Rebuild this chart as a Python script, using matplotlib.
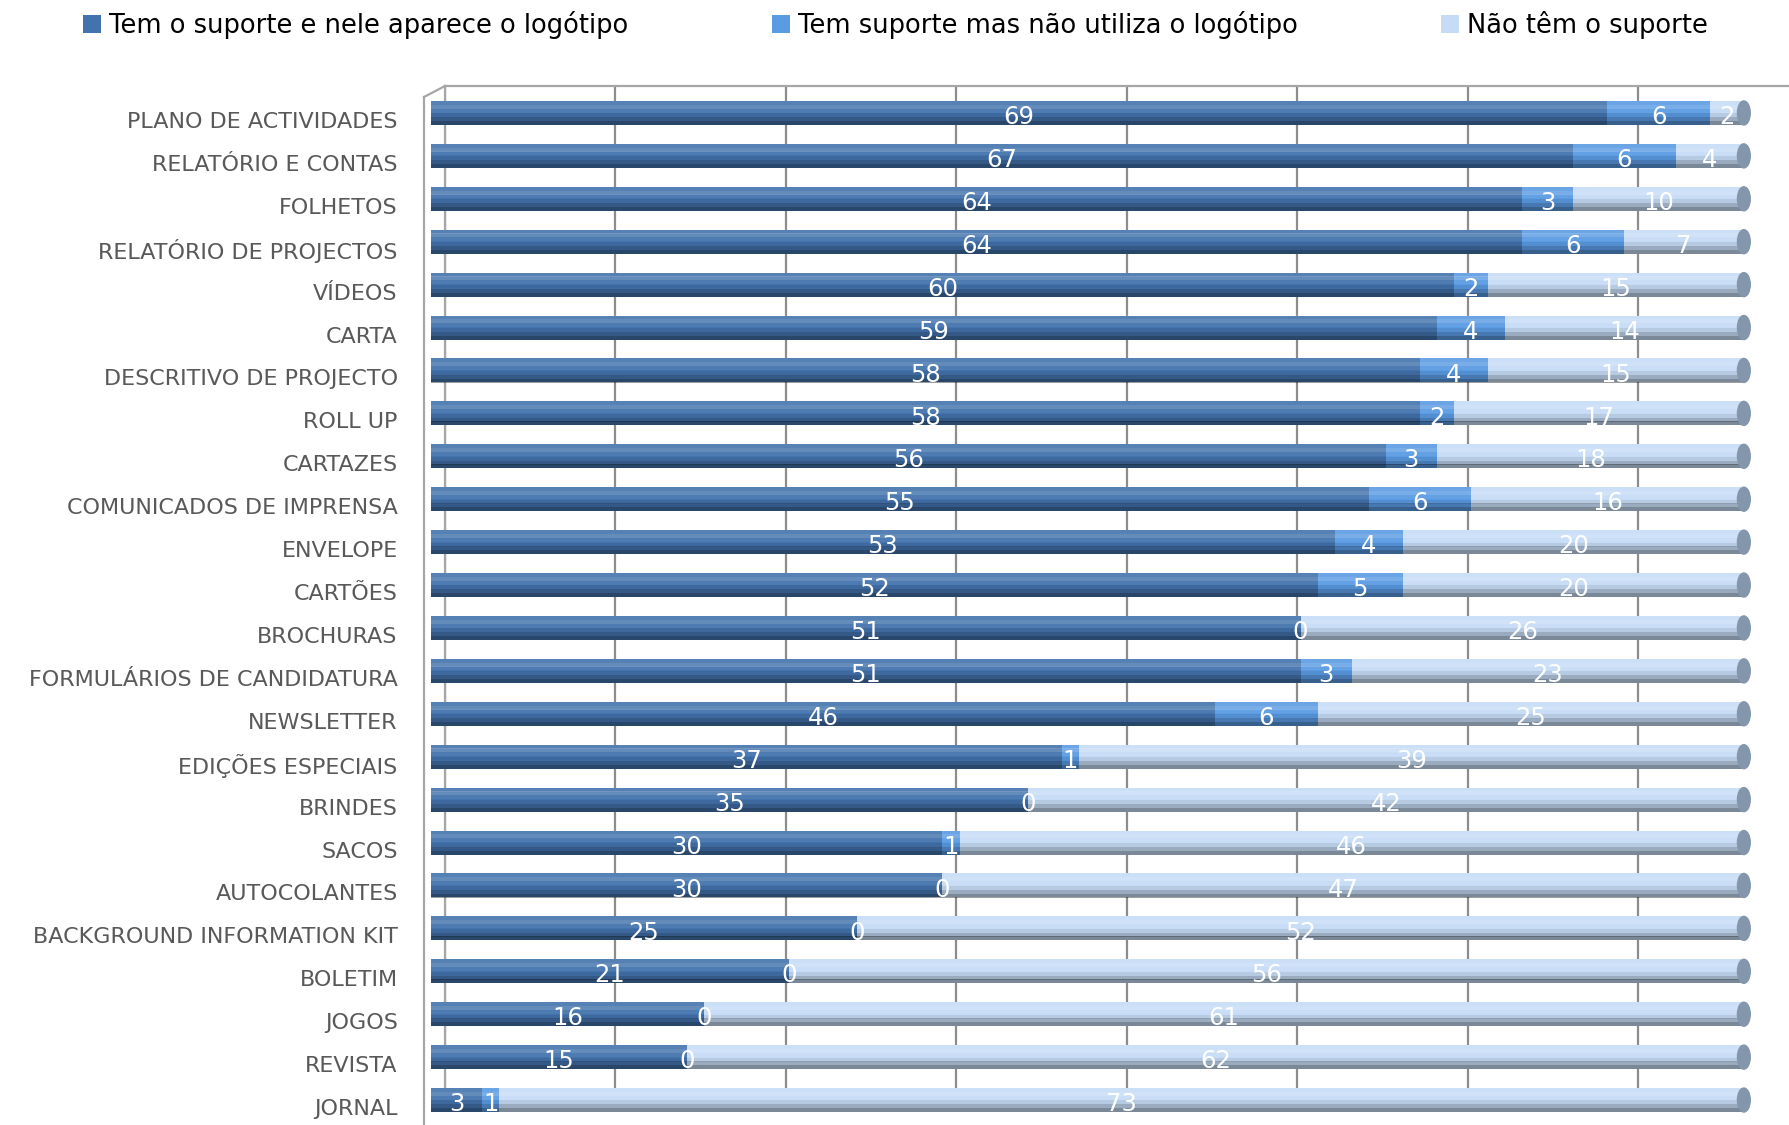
import matplotlib.pyplot as plt
from matplotlib.lines import Line2D
from matplotlib.patches import Ellipse
import matplotlib.transforms as mtransforms
import numpy as np

categories = ["PLANO DE ACTIVIDADES", "RELATÓRIO E CONTAS", "FOLHETOS",
              "RELATÓRIO DE PROJECTOS", "VÍDEOS", "CARTA", "DESCRITIVO DE PROJECTO",
              "ROLL UP", "CARTAZES", "COMUNICADOS DE IMPRENSA", "ENVELOPE", "CARTÕES",
              "BROCHURAS", "FORMULÁRIOS DE CANDIDATURA", "NEWSLETTER", "EDIÇÕES ESPECIAIS",
              "BRINDES", "SACOS", "AUTOCOLANTES", "BACKGROUND INFORMATION KIT", "BOLETIM",
              "JOGOS", "REVISTA", "JORNAL"]
com_logo = [69, 67, 64, 64, 60, 59, 58, 58, 56, 55, 53, 52, 51, 51, 46, 37, 35, 30, 30, 25, 21, 16, 15, 3]
sem_logo = [6, 6, 3, 6, 2, 4, 4, 2, 3, 6, 4, 5, 0, 3, 6, 1, 0, 1, 0, 0, 0, 0, 0, 1]
sem_suporte = [2, 4, 10, 7, 15, 14, 15, 17, 18, 16, 20, 20, 26, 23, 25, 39, 42, 46, 47, 52, 56, 61, 62, 73]
series_names = ["Tem o suporte e nele aparece o logótipo",
                "Tem suporte mas não utiliza o logótipo",
                "Não têm o suporte"]

colors = ["#4373AD", "#5B9BE3", "#C6DCF6"]

W, H = 1790, 1125
fig = plt.figure(figsize=(W / 100, H / 100), dpi=100)

# back wall with gridlines (shifted for the 3D look)
back = fig.add_axes([445 / W, 1 - 1108 / H, 1364 / W, (1108 - 86) / H])
back.set_xlim(0, 80)
back.set_xticks(np.arange(0, 81, 10))
back.set_yticks([])
back.grid(axis="x", color="#8C8C8C", lw=1.6)
back.tick_params(length=0, labelbottom=False)
for s in ["right", "bottom"]:
    back.spines[s].set_visible(False)
for s in ["top", "left"]:
    back.spines[s].set_color("#A6A6A6")
    back.spines[s].set_linewidth(1.6)

# front bars
ax = fig.add_axes([431 / W, 1 - 1121.5 / H, 1364 / W, 1030 / H])
ax.set_xlim(0, 80)
ax.set_ylim(23.5, -0.5)
ax.patch.set_alpha(0)
for s in ax.spines.values():
    s.set_visible(False)
ax.set_xticks([])

y = np.arange(len(categories))
bh = 0.56
left = np.zeros(len(categories))
data = [com_logo, sem_logo, sem_suporte]
# cylinder shading strips: (offset fraction from centre, height fraction, colour, alpha)
strips = [(-0.42, 0.16, "white", 0.10), (-0.26, 0.16, "white", 0.18),
          (-0.10, 0.16, "white", 0.06), (0.10, 0.16, "black", 0.08),
          (0.26, 0.16, "black", 0.22), (0.42, 0.16, "black", 0.38)]
conts = []
for vals, c, name in zip(data, colors, series_names):
    vals = np.array(vals)
    bars = ax.barh(y, vals, left=left, height=bh, color=c, label=name, lw=0, zorder=2)
    for off, hf, sc, a in strips:
        ax.barh(y + off * bh, vals, left=left, height=hf * bh + 0.004, color=sc,
                alpha=a, lw=0, zorder=3)
    conts.append(bars)
    left = left + vals

for yi, tot in zip(y, left):
    ax.add_patch(Ellipse((tot, yi), 0.75, bh, color="#8496AC", zorder=4))

for bars in conts:
    labs = ax.bar_label(bars, label_type="center", color="white", fontsize=17.5, zorder=5)
    for t in labs:
        t.set_zorder(5)
        t.set_va("center")
        t.set_position((0, -3))

ax.set_yticks(y)
ax.set_yticklabels(categories, fontsize=16, color="#595959")
ax.tick_params(axis="y", length=0, pad=24)
off = mtransforms.ScaledTranslation(0, -7 / 100, fig.dpi_scale_trans)
for lab in ax.get_yticklabels():
    lab.set_transform(lab.get_transform() + off)

# left wall edges
fig.add_artist(Line2D([424 / W, 424 / W], [1 - 97 / H, 0], color="#A6A6A6", lw=1.6))
fig.add_artist(Line2D([424 / W, 445 / W], [1 - 97 / H, 1 - 86 / H], color="#A6A6A6", lw=1.6))

fig.legend(handles=conts, labels=series_names, loc="upper left", ncol=3,
           bbox_to_anchor=(60 / W, 1.011), frameon=False, fontsize=18.5,
           handlelength=0.7, handleheight=0.7, handletextpad=0.3, columnspacing=5.6)

plt.savefig("out.png", dpi=100)
